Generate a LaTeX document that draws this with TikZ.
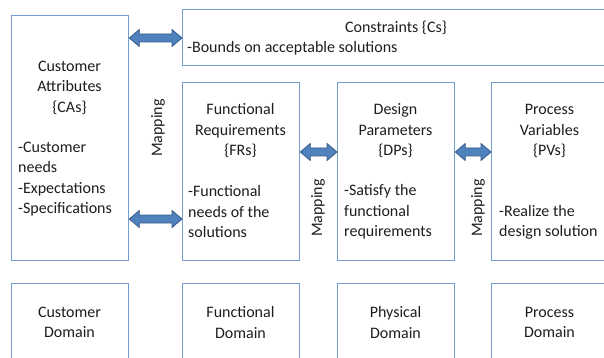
\documentclass[tikz,border=0pt]{standalone}
\usepackage{fontspec}
\setmainfont{Carlito}
\usetikzlibrary{calc}
\definecolor{boxline}{RGB}{116,157,209}
\definecolor{arrfill}{RGB}{79,129,189}
\definecolor{arrline}{RGB}{56,93,138}
\definecolor{txt}{RGB}{30,30,30}
\tikzset{
  box/.style={draw=boxline, line width=1.3pt, rectangle, inner sep=0pt, anchor=north west},
  txtnode/.style={inner sep=0pt, text=txt, font=\fontsize{16}{20.5}\selectfont},
  arrowsty/.style={fill=arrfill, draw=arrline, line width=0.8pt, line join=miter},
}
\newcommand{\dblarrow}[3]{%
  \draw[arrowsty] let \p1=(#1), \p2=(#2), \p3=(0,#3) in
    (\x1,\y3) -- (\x1+10pt,\y3+8.5pt) -- (\x1+10pt,\y3+4pt) -- (\x2-10pt,\y3+4pt)
    -- (\x2-10pt,\y3+8.5pt) -- (\x2,\y3) -- (\x2-10pt,\y3-8.5pt) -- (\x2-10pt,\y3-4pt)
    -- (\x1+10pt,\y3-4pt) -- (\x1+10pt,\y3-8.5pt) -- cycle;}
\begin{document}
\begin{tikzpicture}[x=1pt,y=-1pt]
\useasboundingbox (0,0) rectangle (604,358);
\fill[white] (0,0) rectangle (604,358);
\clip (0,0) rectangle (604,358);

% boxes
\node[box, minimum width=117pt, minimum height=245pt] (ca) at (11,15) {};
\node[box, minimum width=428pt, minimum height=56pt] (cs) at (182,9) {};
\node[box, minimum width=117pt, minimum height=178pt] (fr) at (182,82) {};
\node[box, minimum width=117pt, minimum height=178pt] (dp) at (337,82) {};
\node[box, minimum width=117pt, minimum height=178pt] (pv) at (491,82) {};

\node[box, minimum width=117pt, minimum height=100pt] (cd) at (11,283) {};
\node[box, minimum width=117pt, minimum height=100pt] (fd) at (182,283) {};
\node[box, minimum width=117pt, minimum height=100pt] (pd) at (337,283) {};
\node[box, minimum width=117pt, minimum height=100pt] (prd) at (491,283) {};

% texts
\node[txtnode, align=center] (catitle) at (69.5,87.5) {Customer\\Attributes\\\{CAs\}};
\node[txtnode, align=left, anchor=west] (cabody) at (18,179) {-Customer\\needs\\-Expectations\\-Specifications};

\node[txtnode] (cstitle) at (396,28) {Constraints \{Cs\}};
\node[txtnode, anchor=west] (csbody) at (187,48) {-Bounds on acceptable solutions};

\node[txtnode, align=center] (frtitle) at (240.5,131) {Functional\\Requirements\\\{FRs\}};
\node[txtnode, align=left, anchor=west] (frbody) at (188,212) {-Functional\\needs of the\\solutions};

\node[txtnode, align=center] (dptitle) at (395.5,131) {Design\\Parameters\\\{DPs\}};
\node[txtnode, align=left, anchor=west] (dpbody) at (344,212) {-Satisfy the\\functional\\requirements};

\node[txtnode, align=center] (pvtitle) at (549.5,131) {Process\\Variables\\\{PVs\}};
\node[txtnode, align=left, anchor=west] (pvbody) at (499,222.5) {-Realize the\\design solution};

\node[txtnode, align=center] (cdtext) at (69.5,322.5) {Customer\\Domain};
\node[txtnode, align=center] (fdtext) at (240.5,322.5) {Functional\\Domain};
\node[txtnode, align=center] (pdtext) at (395.5,322.5) {Physical\\Domain};
\node[txtnode, align=center] (prdtext) at (549.5,322.5) {Process\\Domain};

% mapping labels
\node[txtnode, rotate=90] (map1) at (158,128) {Mapping};
\node[txtnode, rotate=90] (map2) at (318,208) {Mapping};
\node[txtnode, rotate=90] (map3) at (478,208) {Mapping};

% arrows
\dblarrow{ca.east}{cs.west}{38}
\dblarrow{ca.east}{fr.west}{219}
\dblarrow{fr.east}{dp.west}{152}
\dblarrow{dp.east}{pv.west}{152}
\end{tikzpicture}
\end{document}
